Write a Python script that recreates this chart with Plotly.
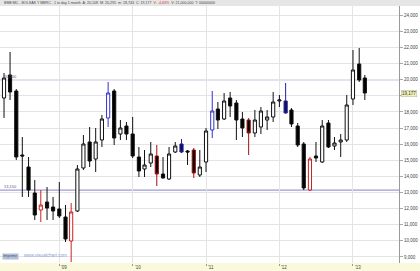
import pandas as pd
import plotly.graph_objects as go

# ---- data (monthly candles, Apr 2008 - Mar 2013) ----
dates = pd.date_range("2008-04-01", periods=60, freq="MS")
open_ = [18867, 20295, 19301, 15329, 14584, 12970, 11915, 12411, 12101, 11977,
         11480, 9991, 11853, 14522, 16136, 15080, 16260, 17626, 19301, 16632,
         17129, 16632, 15205, 14460, 14832, 15267, 14149, 13839, 15515, 16012,
         15577, 15639, 14087, 14894, 16881, 18184, 17564, 18867, 18557, 17564,
         17501, 16695, 17067, 17501, 17688, 18681, 18681, 18122, 17129, 16012,
         13156, 15267, 14894, 17315, 15887, 16136, 16260, 18805, 20977, 20108]
high = [20419, 21722, 19425, 16446, 15205, 13777, 13156, 13342, 12722, 13653,
        12225, 12349, 14708, 16570, 17067, 17005, 17812, 19860, 19425, 17501,
        17377, 17688, 15825, 15639, 16136, 15950, 15205, 15825, 16136, 16322,
        15639, 15763, 15639, 17005, 19301, 18619, 19177, 19239, 18743, 17998,
        17626, 18122, 18308, 18122, 19239, 19053, 19798, 18246, 17315, 16136,
        15205, 16136, 17501, 17501, 16446, 16632, 19053, 21846, 21970, 20295]
low = [17626, 18743, 15018, 12722, 12722, 11294, 11170, 11294, 11294, 11418,
       9929, 8688, 11790, 14398, 14584, 14274, 15825, 17067, 15950, 16260,
       16260, 15142, 13963, 13963, 14584, 13404, 13880, 13777, 15453, 15453,
       14708, 13901, 13963, 14274, 16384, 16943, 17501, 17688, 16260, 16446,
       15329, 16446, 16632, 16881, 17377, 18308, 17900, 17067, 15825, 13156,
       13094, 14894, 14832, 15763, 15639, 15205, 16136, 18432, 19860, 18743]
close = [20108, 19239, 15205, 15267, 13156, 11604, 12225, 12039, 11853, 11542,
         10115, 11790, 14460, 16012, 14956, 16136, 17564, 19177, 16384, 17005,
         16632, 15267, 14336, 14708, 15391, 14149, 13901, 15391, 15887, 15515,
         15515, 14211, 14584, 16819, 18060, 17501, 18681, 18370, 17501, 17005,
         16695, 17501, 18060, 17688, 18619, 18743, 17936, 17253, 15950, 13280,
         15080, 15142, 17129, 15825, 16074, 16260, 18432, 20605, 19984, 19177]
# candle highlight flags: n = normal, r = red, b = blue
flags = list("nnnnnnrnnnnrnnnnnbnnnnnnnrnnnbnrnnbnnnnnrnnnnnbnnnrnnnnnnnnn")

levels = [20000, 13150]
level_labels = ["20,000", "13,150"]
year_ticks = ["2009-01-01", "2010-01-01", "2011-01-01", "2012-01-01", "2013-01-01"]
year_labels = ["'09", "'10", "'11", "'12", "'13"]
y_ticks = [9000, 10000, 11000, 12000, 13000, 14000, 15000, 16000, 17000, 18000,
           19000, 20000, 21000, 22000, 23000, 24000]
y_tick_labels = ["9,000", "10,000", "11,000", "12,000", "13,000", "14,000", "15,000",
                 "16,000", "17,000", "18,000", "", "20,000", "21,000", "22,000",
                 "23,000", "24,000"]
last_value = 19177
last_label = "19,177"
header = ("BME:MC - BOLSAS Y MERC - 1 to day 1 month  A: 20,108  M: 20,295  m: 18,743  "
          "C: 19,177  <span style='color:#d03030'>V: -4,63%</span>  V: 21,000,000  T: 00000000")

styles = {
    "n": dict(inc_line="#111111", inc_fill="#ffffff", dec_line="#111111", dec_fill="#000000"),
    "r": dict(inc_line="#cc2020", inc_fill="#ffffff", dec_line="#a01010", dec_fill="#000000"),
    "b": dict(inc_line="#3333cc", inc_fill="#ffffff", dec_line="#2020a0", dec_fill="#101050"),
}

fig = go.Figure()
for key, st in styles.items():
    idx = [i for i, f in enumerate(flags) if f == key]
    fig.add_trace(go.Candlestick(
        x=[dates[i] for i in idx],
        open=[open_[i] for i in idx], high=[high[i] for i in idx],
        low=[low[i] for i in idx], close=[close[i] for i in idx],
        increasing=dict(line=dict(color=st["inc_line"], width=1), fillcolor=st["inc_fill"]),
        decreasing=dict(line=dict(color=st["dec_line"], width=1), fillcolor=st["dec_fill"]),
        whiskerwidth=0, showlegend=False, hoverinfo="skip",
    ))

shapes = []
# right axis panel (white) and top header strip (grey)
shapes.append(dict(type="rect", xref="paper", yref="paper", x0=1.0, x1=1.06, y0=0, y1=1.0,
                   fillcolor="#ffffff", line=dict(width=0), layer="below"))
shapes.append(dict(type="rect", xref="paper", yref="paper", x0=-0.01, x1=1.06, y0=1.0, y1=1.03,
                   fillcolor="#e6e6e6", line=dict(width=0), layer="below"))
for lv in levels:
    shapes.append(dict(type="line", xref="paper", yref="y", x0=0, x1=1, y0=lv, y1=lv,
                       line=dict(color="#8484cc", width=1), layer="below"))

annotations = []
for lv, lab in zip(levels, level_labels):
    annotations.append(dict(xref="paper", yref="y", x=0.006, y=lv, text=lab, showarrow=False,
                            xanchor="left", yanchor="bottom", yshift=-1,
                            font=dict(size=4, color="#555577", family="Liberation Sans")))
for d, lab in zip(year_ticks, year_labels):
    annotations.append(dict(xref="x", yref="paper", x=d, y=-0.001, text=lab, showarrow=False,
                            xanchor="left", yanchor="top", xshift=0,
                            font=dict(size=4.5, color="#444444", family="Liberation Sans")))
annotations.append(dict(xref="paper", yref="y", x=1.004, y=last_value, text=last_label, showarrow=False,
                        xanchor="left", yanchor="middle", bgcolor="#f2f2b8", bordercolor="#b0b0a0",
                        borderwidth=0.5, borderpad=0.5,
                        font=dict(size=4.5, color="#333333", family="Liberation Sans")))
annotations.append(dict(xref="paper", yref="paper", x=0.004, y=1.0115, text=header, showarrow=False,
                        xanchor="left", yanchor="middle",
                        font=dict(size=3.6, color="#444444", family="Liberation Sans")))
annotations.append(dict(xref="paper", yref="paper", x=0.005, y=0.012, text="Imprimir", showarrow=False,
                        xanchor="left", yanchor="bottom", bgcolor="#b4c0d6", borderpad=0.3,
                        font=dict(size=3.8, color="#445577", family="Liberation Sans")))
annotations.append(dict(xref="paper", yref="paper", x=0.055, y=0.012, text="www.visualchart.com",
                        showarrow=False, xanchor="left", yanchor="bottom",
                        font=dict(size=4.6, color="#8aa4d0", family="Liberation Sans")))

fig.update_layout(
    width=420, height=271,
    margin=dict(l=0, r=21, t=6, b=8),
    paper_bgcolor="#fbf9dc", plot_bgcolor="#ffffff",
    boxmode="overlay", boxgap=0.2,
    font=dict(family="Liberation Sans", size=5, color="#444444"),
    shapes=shapes, annotations=annotations,
    xaxis=dict(
        type="date", range=["2008-03-12", "2013-08-18"],
        rangeslider=dict(visible=False),
        tickvals=year_ticks, ticktext=["", "", "", "", ""],
        showgrid=True, gridcolor="#e4e4e4", gridwidth=1,
        ticks="outside", ticklen=2, tickcolor="#999999",
        showline=False, zeroline=False, fixedrange=True,
    ),
    yaxis=dict(
        side="right", range=[8625, 24577],
        tickvals=y_ticks, ticktext=y_tick_labels,
        showgrid=True, gridcolor="#e4e4e4", gridwidth=1,
        ticks="outside", ticklen=3, tickcolor="#aaaaaa",
        tickfont=dict(size=4.5, color="#444444", family="Liberation Sans"),
        showline=True, linecolor="#999999", linewidth=1, zeroline=False,
    ),
)

fig.write_html("out.html")
